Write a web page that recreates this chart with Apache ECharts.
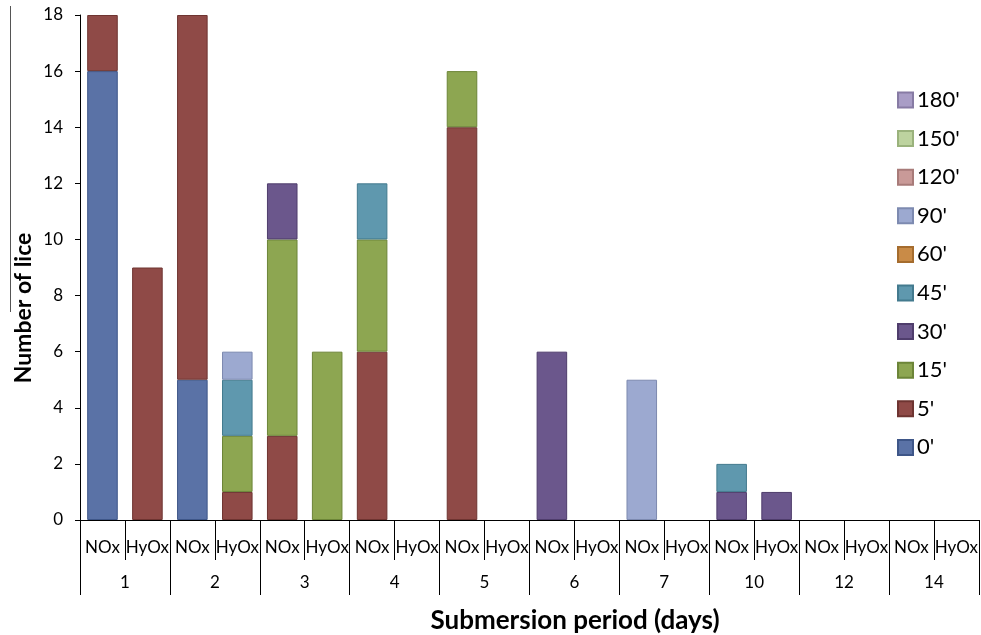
<!DOCTYPE html>
<html><head><meta charset="utf-8">
<script src="https://cdn.jsdelivr.net/npm/echarts@6/dist/echarts.min.js"></script>
<style>html,body{margin:0;padding:0;background:#fff}#c{width:981px;height:635px}</style>
</head><body><div id="c"></div>
<script>
// categories
const treatments = ['NOx','HyOx','NOx','HyOx','NOx','HyOx','NOx','HyOx','NOx','HyOx','NOx','HyOx','NOx','HyOx','NOx','HyOx','NOx','HyOx','NOx','HyOx'];
const days = ['1','2','3','4','5','6','7','10','12','14'];
const yTicks = [0,2,4,6,8,10,12,14,16,18];
// series values (number of lice per submersion time)
const s0   = [16,0,5,0,0,0,0,0,0,0,0,0,0,0,0,0,0,0,0,0];
const s5   = [2,9,13,1,3,0,6,0,14,0,0,0,0,0,0,0,0,0,0,0];
const s15  = [0,0,0,2,7,6,4,0,2,0,0,0,0,0,0,0,0,0,0,0];
const s30  = [0,0,0,0,2,0,0,0,0,0,6,0,0,0,1,1,0,0,0,0];
const s45  = [0,0,0,2,0,0,2,0,0,0,0,0,0,0,1,0,0,0,0,0];
const s60  = [0,0,0,0,0,0,0,0,0,0,0,0,0,0,0,0,0,0,0,0];
const s90  = [0,0,0,1,0,0,0,0,0,0,0,0,5,0,0,0,0,0,0,0];
const s120 = [0,0,0,0,0,0,0,0,0,0,0,0,0,0,0,0,0,0,0,0];
const s150 = [0,0,0,0,0,0,0,0,0,0,0,0,0,0,0,0,0,0,0,0];
const s180 = [0,0,0,0,0,0,0,0,0,0,0,0,0,0,0,0,0,0,0,0];
const seriesNames = ["0'","5'","15'","30'","45'","60'","90'","120'","150'","180'"];
const seriesData = [s0,s5,s15,s30,s45,s60,s90,s120,s150,s180];
const colors = ['#5a72a6','#8f4a47','#8da651','#6b578c','#5f98ae','#c98b47','#9ca9d0','#c99a98','#bdd39f','#a99dc6'];
const borders = ['#3e5688','#6e3431','#6c8538','#4f3d6c','#437a8e','#a56c2e','#7d8ab0','#a87b79','#9ab27c','#877ba4'];

const FONT = 'Lato, "Open Sans", sans-serif';
const chart = echarts.init(document.getElementById('c'));
chart.setOption({
  animation: false,
  color: colors,
  textStyle: { fontFamily: FONT },
  grid: { left: 80, right: 1, top: 15, bottom: 115 },
  legend: {
    orient: 'vertical', left: 892, top: 84,
    data: seriesNames.slice().reverse(),
    itemWidth: 15, itemHeight: 15, itemGap: 16.6,
    icon: 'rect',
    textStyle: { fontSize: 22, color: '#000', fontFamily: FONT, padding: [0,0,0,-1] }
  },
  xAxis: [{
    type: 'category', data: treatments, position: 'bottom',
    axisLine: { lineStyle: { color: '#000', width: 1 } },
    axisTick: { show: true, length: 40, interval: 0, lineStyle: { color: '#000' } },
    axisLabel: { interval: 0, margin: 19, fontSize: 17, color: '#000', fontFamily: FONT }
  }, {
    type: 'category', data: days, position: 'bottom', offset: 0,
    axisLine: { show: false },
    axisTick: { show: true, length: 75, interval: 0, lineStyle: { color: '#000' } },
    axisLabel: { interval: 0, margin: 54, fontSize: 17, color: '#000', fontFamily: FONT }
  }],
  yAxis: {
    type: 'value', min: yTicks[0], max: yTicks[yTicks.length-1], interval: yTicks[1]-yTicks[0],
    axisLine: { show: true, lineStyle: { color: '#000' } },
    axisTick: { show: true, length: 5, lineStyle: { color: '#000' } },
    splitLine: { show: false },
    axisLabel: { fontSize: 17, color: '#000', margin: 17, fontFamily: FONT }
  },
  graphic: [
    { type: 'line', shape: { x1: 10.5, y1: 6, x2: 10.5, y2: 312 }, style: { stroke: '#555', lineWidth: 1 } },
    { type: 'text', x: 24, y: 308, rotation: Math.PI/2,
      style: { text: 'Number of lice', font: 'bold 23px ' + FONT, fill: '#000', textAlign: 'center', textVerticalAlign: 'middle' } },
    { type: 'text', x: 575, y: 621,
      style: { text: 'Submersion period (days)', font: 'bold 26px ' + FONT, fill: '#000', textAlign: 'center', textVerticalAlign: 'middle' } }
  ],
  series: seriesNames.map((n, i) => ({
    name: n, type: 'bar', stack: 'total', barWidth: '68%', xAxisIndex: 0,
    itemStyle: { color: colors[i], borderColor: borders[i], borderWidth: 1 },
    data: seriesData[i].map(v => v === 0 ? null : v)
  }))
});
</script></body></html>
